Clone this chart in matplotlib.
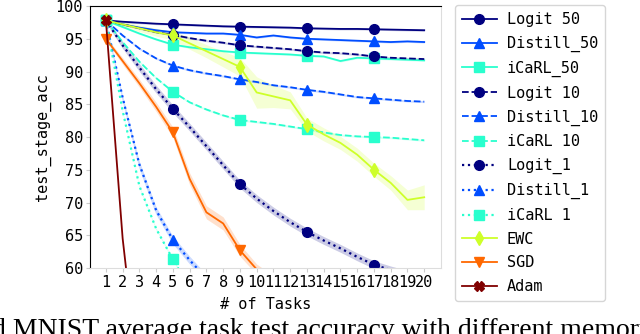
import matplotlib.pyplot as plt
import numpy as np

plt.close('all')

# tasks on the x axis
tasks = list(range(1, 21))

# mean accuracy per task
logit_50   = [97.8, 97.6, 97.45, 97.3, 97.2, 97.1, 97.0, 96.9, 96.85, 96.8, 96.75, 96.7, 96.6, 96.55, 96.5, 96.5, 96.45, 96.4, 96.35, 96.3]
distill_50 = [97.8, 97.2, 96.7, 96.3, 96.0, 95.9, 95.8, 95.8, 95.6, 95.2, 95.5, 95.2, 95.0, 94.9, 94.8, 94.7, 94.6, 94.5, 94.6, 94.5]
icarl_50   = [97.8, 96.8, 95.8, 94.9, 94.1, 93.7, 93.4, 93.1, 92.9, 92.8, 92.7, 92.6, 92.4, 92.3, 91.6, 92.1, 92.0, 91.9, 91.8, 91.7]
logit_10   = [97.8, 97.2, 96.6, 96.0, 95.6, 95.1, 94.7, 94.4, 94.0, 93.8, 93.6, 93.4, 93.1, 92.9, 92.8, 92.6, 92.3, 92.1, 92.0, 91.9]
distill_10 = [97.8, 95.5, 93.5, 92.0, 90.9, 90.2, 89.7, 89.3, 88.8, 88.4, 87.9, 87.6, 87.2, 86.9, 86.5, 86.1, 85.9, 85.7, 85.5, 85.4]
icarl_10   = [97.8, 94.5, 91.5, 89.0, 86.9, 85.3, 84.2, 83.3, 82.6, 82.3, 82.0, 81.6, 81.2, 80.7, 80.3, 80.1, 80.0, 79.9, 79.7, 79.5]
logit_1    = [97.8, 94.0, 90.6, 87.3, 84.3, 81.5, 78.6, 75.7, 72.8, 70.6, 68.7, 67.0, 65.5, 64.2, 63.0, 61.7, 60.5, 59.7, 59.0, 58.3]
distill_1  = [97.8, 86.0, 75.8, 68.8, 64.3, 61.2, 58.4, 56.0, 54.0, 52.5, 51.0, 50.0, 49.0, 48.0, 47.0, 46.0, 45.0, 44.0, 43.0, 42.0]
icarl_1    = [97.8, 84.0, 72.5, 66.0, 61.3, 57.0, 54.5, 52.5, 51.0, 49.5, 48.0, 47.0, 46.0, 45.0, 44.0, 43.0, 42.0, 41.0, 40.0, 39.0]
ewc        = [97.8, 97.2, 96.6, 96.0, 95.5, 94.3, 93.1, 91.9, 90.7, 86.8, 86.2, 85.6, 81.9, 80.4, 79.1, 77.3, 75.0, 73.0, 70.4, 70.8]
sgd        = [95.0, 91.6, 88.2, 84.6, 80.7, 73.6, 68.5, 66.8, 62.7, 59.8, 58.0, 56.5, 55.0, 53.5, 52.0, 51.0, 50.0, 49.0, 48.0, 47.0]
adam       = [97.8, 64.5, 42.0, 35.0, 30.0, 27.0, 25.0, 23.0, 22.0, 21.0, 20.0, 19.0, 18.0, 17.0, 16.0, 15.0, 14.0, 13.0, 12.0, 11.0]

# std across runs (shaded bands)
std_small = [0.15] * 20
std_1     = [0.3, 0.5, 0.6, 0.6, 0.6, 0.6, 0.6, 0.6, 0.6, 0.6, 0.6, 0.6, 0.6, 0.6, 0.6, 0.6, 0.6, 0.6, 0.6, 0.6]
std_ewc   = [0.3, 0.4, 0.5, 0.6, 0.7, 0.9, 1.0, 1.2, 1.4, 2.4, 1.7, 1.3, 1.0, 1.0, 1.0, 1.0, 1.0, 1.1, 1.5, 1.9]
std_sgd   = [0.3, 0.5, 0.6, 0.7, 0.8, 0.9, 1.0, 1.0, 0.9, 0.8, 0.8, 0.8, 0.8, 0.8, 0.8, 0.8, 0.8, 0.8, 0.8, 0.8]

labels = ['Logit 50', 'Distill_50', 'iCaRL_50', 'Logit 10', 'Distill_10', 'iCaRL 10',
          'Logit_1', 'Distill_1', 'iCaRL 1', 'EWC', 'SGD', 'Adam']
means = [logit_50, distill_50, icarl_50, logit_10, distill_10, icarl_10,
         logit_1, distill_1, icarl_1, ewc, sgd, adam]
stds = [std_small, std_small, std_small, std_small, std_small, std_small,
        std_1, std_1, std_small, std_ewc, std_sgd, std_small]

jet = plt.get_cmap('jet')
c_logit, c_distill, c_icarl = jet(0.0), jet(0.2), jet(0.4)
colours = [c_logit, c_distill, c_icarl] * 3 + [jet(0.6), jet(0.8), jet(1.0)]
styles = ['-'] * 3 + ['--'] * 3 + [':'] * 3 + ['-', '-', '-']
markers = ['o', '^', 's'] * 3 + ['d', 'v', 'X']

plt.rcParams['font.family'] = 'DejaVu Sans Mono'
plt.rcParams['font.size'] = 11

fig = plt.figure(figsize=(6.4, 3.34), dpi=100, facecolor='w')
ax = fig.add_axes([0.1406, 0.1976, 0.5484, 0.7844])

x = np.array(tasks)
for m, s, lab, col, ls, mk in zip(means, stds, labels, colours, styles, markers):
    m = np.array(m)
    s = np.array(s)
    ax.fill_between(x, m - s, m + s, color=col, alpha=0.2, linewidth=0)
    lw = 1.6 if ls == ':' else 1.3
    ax.plot(x, m, color=col, linestyle=ls, linewidth=lw, marker=mk,
            markersize=7, markevery=4, label=lab)

ax.set_xlim(0.05, 21.0)
ax.set_ylim(60, 100)
ax.set_xticks(tasks)
ax.set_yticks([60, 65, 70, 75, 80, 85, 90, 95, 100])
ax.tick_params(axis='both', length=3, color='#cccccc', labelsize=11, pad=2)
ax.spines['bottom'].set_color('#dddddd')
ax.spines['right'].set_color('#dddddd')
ax.set_ylabel('test_stage_acc', fontsize=11, labelpad=3)
ax.set_xlabel('# of Tasks', fontsize=11, labelpad=5)

leg = ax.legend(loc='upper left', bbox_to_anchor=(0.711, 0.984), bbox_transform=fig.transFigure,
                borderaxespad=0, borderpad=0.45, handlelength=2.3, handletextpad=0.65,
                labelspacing=0.57, fontsize=11, frameon=True, fancybox=True)
leg.get_frame().set_edgecolor('#cccccc')

# caption of the paper, cut off at the bottom edge
fig.text(-0.012, -0.008, 'd MNIST average task test accuracy with different memory sizes',
         fontsize=20, family='Liberation Serif', ha='left', va='baseline')

fig.savefig('out.png', dpi=100)
